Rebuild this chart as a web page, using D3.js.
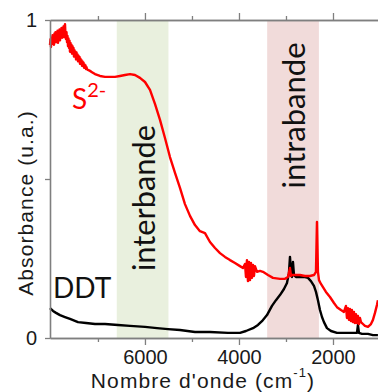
<!DOCTYPE html>
<html><head><meta charset="utf-8">
<script src="https://cdn.jsdelivr.net/npm/d3@7"></script>
<style>html,body{margin:0;padding:0;background:#fff;}svg{display:block;}</style>
</head><body>
<svg id="c" width="378" height="392"></svg>
<script>
// Wavenumber (cm-1) / absorbance (a.u.)
const s2Spectrum = [[8020,.921],[8010,.940],[7999,.915],[7988,.945],[7977,.925],[7967,.952],[7956,.930],[7946,.948],[7935,.922],[7924,.958],[7914,.935],[7903,.962],[7892,.930],[7882,.955],[7871,.940],[7860,.966],[7850,.928],[7839,.957],[7829,.945],[7818,.970],[7807,.936],[7797,.962],[7786,.950],[7775,.975],[7765,.944],[7754,.968],[7743,.952],[7733,.980],[7722,.946],[7712,.975],[7701,.987],[7690,.950],[7680,.940],[7669,.962],[7658,.930],[7648,.950],[7637,.918],[7627,.942],[7616,.912],[7605,.935],[7595,.900],[7584,.928],[7573,.905],[7563,.922],[7552,.894],[7541,.918],[7531,.898],[7520,.912],[7510,.885],[7499,.905],[7488,.888],[7478,.900],[7467,.876],[7456,.898],[7446,.880],[7435,.892],[7424,.870],[7414,.888],[7403,.872],[7392,.884],[7382,.862],[7371,.878],[7361,.865],[7350,.874],[7339,.856],[7329,.870],[7318,.858],[7307,.866],[7297,.850],[7286,.860],[7276,.852],[7265,.857],[7254,.846],[7244,.852],[7233,.845],[7212,.843],[7169,.840],[7127,.836],[7063,.830],[6957,.824],[6850,.821],[6744,.821],[6637,.821],[6531,.824],[6425,.827],[6318,.830],[6212,.827],[6106,.818],[5999,.805],[5893,.780],[5787,.736],[5680,.686],[5574,.629],[5468,.569],[5361,.519],[5255,.472],[5149,.421],[5042,.384],[4936,.355],[4830,.336],[4723,.330],[4617,.302],[4510,.283],[4404,.267],[4298,.255],[4191,.245],[4085,.236],[3979,.226],[3915,.220],[3872,.233],[3851,.192],[3830,.245],[3809,.179],[3787,.239],[3766,.182],[3745,.236],[3724,.189],[3702,.230],[3681,.195],[3660,.226],[3617,.208],[3553,.211],[3490,.208],[3383,.198],[3277,.189],[3128,.186],[3022,.186],[2958,.192],[2915,.220],[2894,.195],[2873,.198],[2809,.198],[2703,.198],[2596,.195],[2490,.195],[2405,.198],[2362,.208],[2341,.365],[2320,.208],[2298,.182],[2256,.170],[2213,.160],[2150,.145],[2064,.129],[1979,.110],[1915,.097],[1830,.088],[1767,.082],[1724,.101],[1703,.063],[1682,.094],[1660,.057],[1639,.091],[1618,.053],[1597,.088],[1575,.050],[1554,.082],[1533,.047],[1511,.075],[1490,.047],[1469,.069],[1448,.044],[1426,.063],[1405,.050],[1363,.044],[1320,.038],[1256,.035],[1192,.044],[1150,.057],[1107,.079],[1065,.104],[1044,.119]];
const ddtSpectrum = [[8020,.094],[7956,.085],[7892,.079],[7807,.072],[7701,.066],[7595,.060],[7424,.050],[7254,.047],[7063,.044],[6850,.044],[6574,.041],[6318,.038],[5999,.035],[5744,.031],[5510,.028],[5255,.025],[4936,.019],[4617,.019],[4234,.016],[3979,.016],[3851,.022],[3702,.031],[3596,.041],[3511,.053],[3404,.072],[3298,.101],[3213,.119],[3128,.135],[3043,.154],[2979,.173],[2937,.204],[2915,.255],[2894,.214],[2873,.192],[2851,.239],[2830,.198],[2788,.192],[2703,.192],[2617,.192],[2532,.189],[2469,.179],[2405,.164],[2362,.145],[2320,.119],[2277,.088],[2234,.066],[2192,.050],[2128,.031],[2043,.022],[1915,.016],[1745,.016],[1575,.016],[1490,.016],[1469,.041],[1448,.016],[1384,.013],[1256,.013],[1150,.009],[1044,.009]];
const bands = [{name:"interbande", from:6600, to:5500, color:"#e9f0de"},{name:"intrabande", from:3400, to:2300, color:"#f1dbda"}];
const bandLabelY = [0.44, 0.70];
const xMajorTicks = [6000, 4000, 2000];
const xMinorTicks = [7000, 5000, 3000];
const yTicks = [0, 0.5, 1];
const yTickLabels = ["0", "", "1"];
const xDomain = [8020, 1000];
const yDomain = [0, 1];

const svg = d3.select("#c");
const L = 50, R = 380, T = 20, B = 338;
const x = d3.scaleLinear().domain(xDomain).range([L, R]);
const y = d3.scaleLinear().domain(yDomain).range([B, T]);

// bands
bands.forEach((b, i) => {
  svg.append("rect").attr("x", x(b.from)).attr("y", T)
    .attr("width", x(b.to) - x(b.from)).attr("height", B - T).attr("fill", b.color);
  const cx = (x(b.from) + x(b.to)) / 2 + 12;
  const cy = y(bandLabelY[i]);
  svg.append("text").attr("transform", `translate(${cx},${cy}) rotate(-90)`)
    .attr("text-anchor", "middle").attr("font-family", "Lato").attr("font-size", 31)
    .attr("fill", "#111").attr("textLength", 146).attr("lengthAdjust", "spacingAndGlyphs")
    .text(b.name);
});

const line = d3.line().x(d => x(d[0])).y(d => y(d[1]));
svg.append("path").datum(ddtSpectrum).attr("d", line).attr("fill", "none")
  .attr("stroke", "#000").attr("stroke-width", 2.4).attr("stroke-linejoin", "round");
svg.append("path").datum(s2Spectrum).attr("d", line).attr("fill", "none")
  .attr("stroke", "#ff0000").attr("stroke-width", 2.4).attr("stroke-linejoin", "round");

// axes
const axisColor = "#7f7f7f";
function styleAxis(g) {
  g.select(".domain").attr("stroke", axisColor).attr("stroke-width", 1.6);
  g.selectAll(".tick line").attr("stroke", axisColor).attr("stroke-width", 1.3);
  g.selectAll("text").attr("font-family", "Liberation Sans, Arial").attr("font-size", 20).attr("fill", "#1a1a1a");
}
svg.append("g").attr("transform", `translate(0,${B})`)
  .call(d3.axisBottom(x).tickValues(xMinorTicks).tickSize(4).tickFormat("").tickSizeOuter(0)).call(styleAxis);
svg.append("g").attr("transform", `translate(0,${B})`)
  .call(d3.axisBottom(x).tickValues(xMajorTicks).tickSize(7).tickPadding(5).tickFormat(d3.format("d")).tickSizeOuter(0)).call(styleAxis);
svg.append("g").attr("transform", `translate(0,${T})`)
  .call(d3.axisTop(x).tickValues(xMinorTicks).tickSize(4).tickFormat("").tickSizeOuter(0)).call(styleAxis);
svg.append("g").attr("transform", `translate(0,${T})`)
  .call(d3.axisTop(x).tickValues(xMajorTicks).tickSize(7).tickFormat("").tickSizeOuter(0)).call(styleAxis);
svg.append("g").attr("transform", `translate(${L},0)`)
  .call(d3.axisLeft(y).tickValues(yTicks).tickSize(5).tickPadding(8).tickFormat((d, i) => yTickLabels[i]).tickSizeOuter(0)).call(styleAxis);

// axis titles
svg.append("text").attr("transform", "translate(33,203) rotate(-90)").attr("text-anchor", "middle")
  .attr("font-family", "Liberation Sans, Arial").attr("font-size", 21).attr("fill", "#1a1a1a")
  .attr("letter-spacing", 1.1).text("Absorbance (u.a.)");
const xt = svg.append("text").attr("x", 203).attr("y", 388).attr("text-anchor", "middle")
  .attr("font-family", "Liberation Sans, Arial").attr("font-size", 21).attr("fill", "#1a1a1a").attr("letter-spacing", 1.1);
xt.append("tspan").text("Nombre d'onde (cm");
xt.append("tspan").attr("font-size", 13).attr("dy", -11).text("-1");
xt.append("tspan").attr("dy", 11).text(")");

// series labels
const s = svg.append("text").attr("x", 72).attr("y", 109).attr("font-family", "Lato").attr("font-size", 28).attr("fill", "#ff0000");
s.append("tspan").text("S");
s.append("tspan").attr("font-size", 20).attr("dy", -12).text("2-");
svg.append("text").attr("x", 53).attr("y", 298).attr("font-family", "Lato").attr("font-size", 28).attr("fill", "#111").text("DDT");
</script>
</body></html>
